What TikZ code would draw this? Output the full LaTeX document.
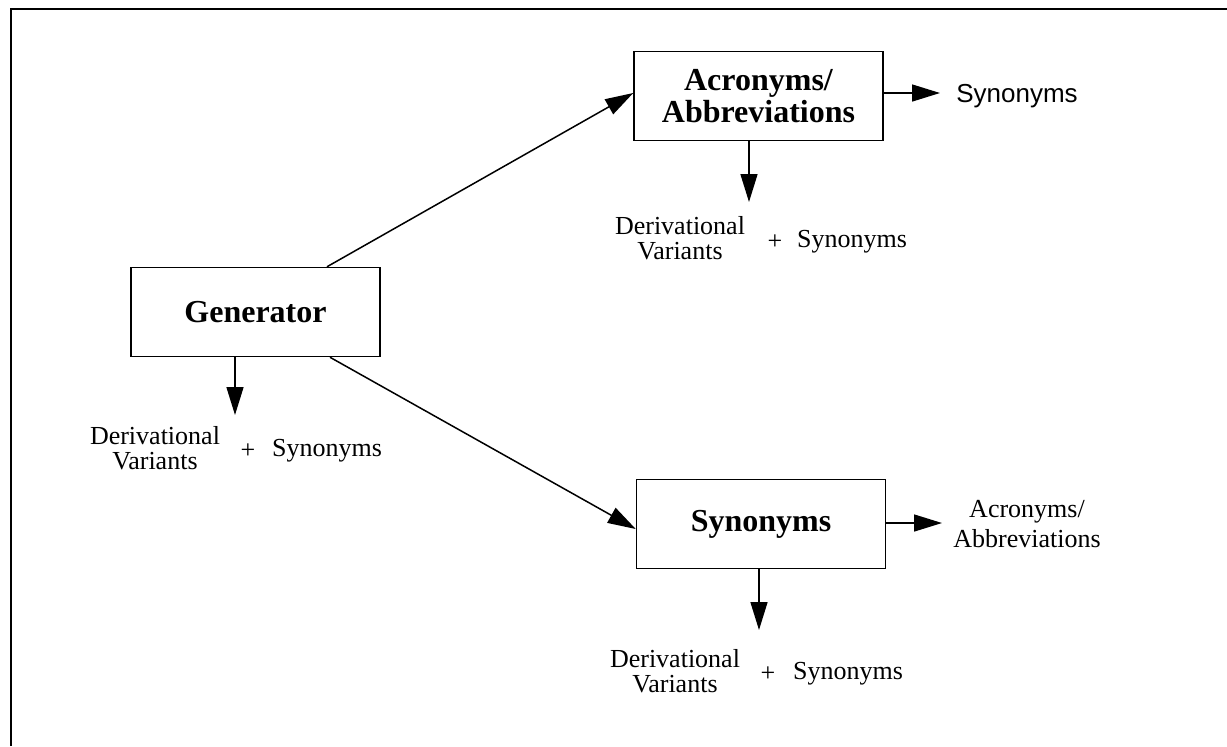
\documentclass[tikz,border=0pt]{standalone}
\usepackage{fontspec}
\setmainfont{Liberation Serif}
\newfontfamily\helv{Liberation Sans}
\usetikzlibrary{arrows.meta,positioning,calc}
\tikzset{box/.style={draw,line width=0.75pt,minimum width=124.5pt,minimum height=44.5pt,inner sep=0pt,align=center,font=\fontsize{16}{16}\selectfont\bfseries}}
\tikzset{lbl/.style={inner sep=0pt,align=center,font=\fontsize{13}{12.5}\selectfont}}

\begin{document}
\begin{tikzpicture}[x=0.5pt, y=-0.5pt, ->, >={Triangle[length=14pt,width=8.5pt]}, line width=0.75pt]
\useasboundingbox (0,0) rectangle (1227,746);
    \draw[-, line width=1pt] (10.5,746) -- (10.5,8.5) -- (1227,8.5);

    \node[box] (G) at (255.5,312) {Generator};
    \node[box] (A) at (758.5,96) {Acronyms/\\Abbreviations};
    \node[box] (S) at (761,524) {Synonyms};

    \node[lbl] (GD) at (155,448) {Derivational\\Variants};
    \node[lbl] (GP) at (248,451) {+};
    \node[lbl] (GS) at (327,451) {Synonyms};

    \node[lbl] (AD) at (680,238) {Derivational\\Variants};
    \node[lbl] (AP) at (775,242) {+};
    \node[lbl] (AS) at (852,242) {Synonyms};
    \node[lbl, font=\helv\fontsize{13}{13}\selectfont] (AR) at (1017,96) {Synonyms};

    \node[lbl] (SD) at (675,671) {Derivational\\Variants};
    \node[lbl] (SP) at (768,674) {+};
    \node[lbl] (SS) at (848,674) {Synonyms};
    \node[lbl, font=\fontsize{13}{15}\selectfont] (SR) at (1027,524) {Acronyms/\\Abbreviations};

    \coordinate (GT) at (235,415);
    \coordinate (AT) at (749,202);
    \coordinate (AE) at (940,93);
    \coordinate (ST) at (759,630);
    \coordinate (SE) at (942,523);

    \path ([xshift=35.75pt]G.north) edge ([yshift=1.5pt]A.west);
    \path ([xshift=37.25pt]G.south) edge ([yshift=-2.5pt]S.west);
    \path (G.south -| GT) edge (GT);
    \path (A.south -| AT) edge (AT);
    \path (A.east |- AE) edge (AE);
    \path (S.south -| ST) edge (ST);
    \path (S.east |- SE) edge (SE);
\end{tikzpicture}
\end{document}
